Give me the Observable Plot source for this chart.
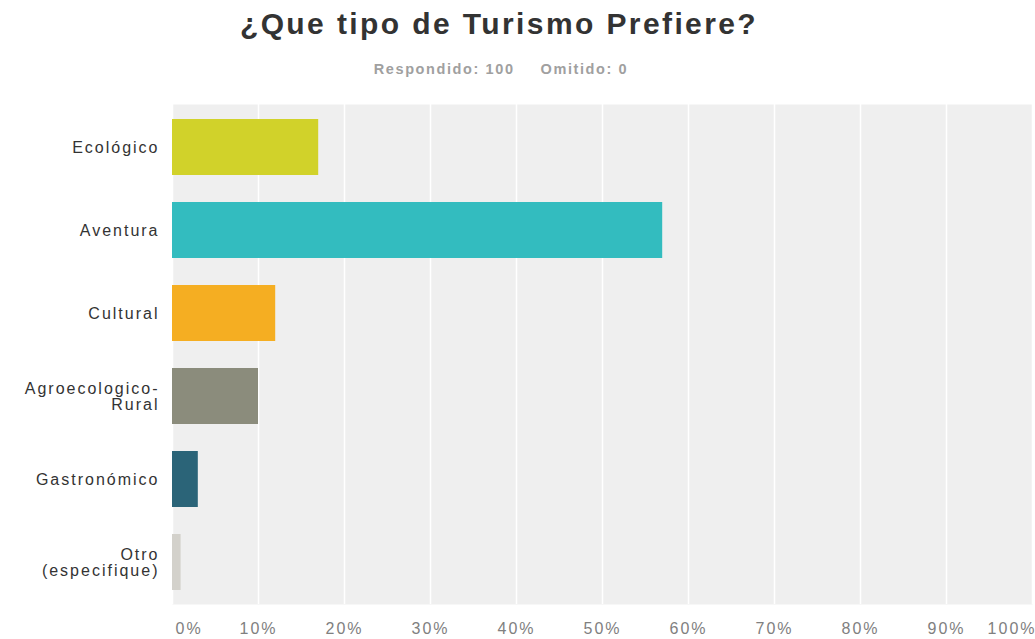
<!DOCTYPE html>
<html>
<head>
<meta charset="utf-8">
<script src="https://cdn.jsdelivr.net/npm/d3@7"></script>
<script src="https://cdn.jsdelivr.net/npm/@observablehq/plot@0.6"></script>
<style>
  body { margin: 0; background: #fff; font-family: "Liberation Sans", Arial, sans-serif; }
  #wrap { width: 1035px; height: 639px; position: relative; overflow: hidden; }
  #title { position: absolute; left: 0; width: 998px; top: 6px; text-align: center; font-size: 30px; line-height: 35px; font-weight: bold; color: #333; letter-spacing: 2.4px; }
  #subtitle { position: absolute; left: 0; width: 1002px; top: 61px; text-align: center; font-size: 14.5px; line-height: 16px; color: #a0a0a0; font-weight: bold; letter-spacing: 1.6px; }
  #subtitle span + span { margin-left: 26px; }
  #chart { position: absolute; left: 0; top: 90px; }
</style>
</head>
<body>
<div id="wrap">
  <div id="title">¿Que tipo de Turismo Prefiere?</div>
  <div id="subtitle"><span>Respondido: 100</span><span>Omitido: 0</span></div>
  <div id="chart"></div>
</div>
<script>
const categories = ["Ecológico", "Aventura", "Cultural", "Agroecologico-\nRural", "Gastronómico", "Otro\n(especifique)"];
const values = [17, 57, 12, 10, 3, 1];
const colors = ["#d1d22a", "#33bcbf", "#f5ae22", "#8b8c7c", "#2b6478", "#d3d1cb"];
const tickValues = [0, 10, 20, 30, 40, 50, 60, 70, 80, 90, 100];

const data = categories.map((c, i) => ({category: c, value: values[i], color: colors[i]}));

const pct = d => d + "%";
const chart = Plot.plot({
  width: 1035,
  height: 549,
  marginTop: 14,
  marginBottom: 35,
  marginLeft: 172,
  marginRight: 3,
  style: {fontFamily: "Liberation Sans, Arial, sans-serif", background: "transparent", letterSpacing: "2px"},
  x: {domain: [0, 100], axis: null, label: null},
  y: {domain: categories, paddingInner: 0.33, paddingOuter: 0.165, axis: null, label: null},
  marks: [
    Plot.frame({fill: "#efefef", stroke: null}),
    Plot.gridX(tickValues, {stroke: "#ffffff", strokeOpacity: 1, strokeWidth: 1.5}),
    Plot.barX(data, {x: "value", y: "category", fill: "color"}),
    Plot.axisY({tickSize: 0, tickPadding: 13, fontSize: 16, color: "#333", lineHeight: 1.02, label: null}),
    Plot.axisX(tickValues.slice(1, -1), {tickSize: 0, tickPadding: 18, fontSize: 16, color: "#808080", tickFormat: pct, label: null}),
    Plot.axisX([tickValues[0]], {tickSize: 0, tickPadding: 18, fontSize: 16, color: "#808080", textAnchor: "start", dx: 3, tickFormat: pct, label: null}),
    Plot.axisX([tickValues[tickValues.length - 1]], {tickSize: 0, tickPadding: 18, fontSize: 16, color: "#808080", textAnchor: "end", dx: 4, tickFormat: pct, label: null})
  ]
});
document.getElementById("chart").appendChild(chart);
</script>
</body>
</html>
